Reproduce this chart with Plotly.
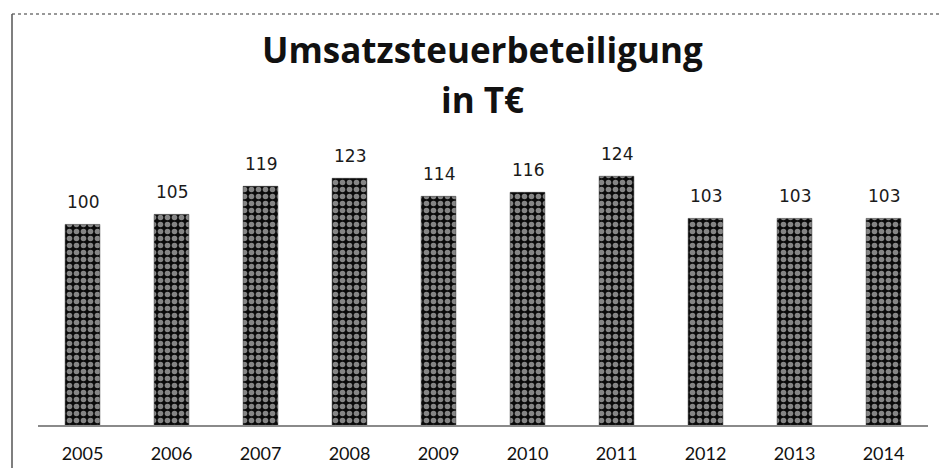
import plotly.graph_objects as go

years = ["2005", "2006", "2007", "2008", "2009", "2010", "2011", "2012", "2013", "2014"]
values = [100, 105, 119, 123, 114, 116, 124, 103, 103, 103]
title_line1 = "Umsatzsteuerbeteiligung"
title_line2 = "in T€"

fig = go.Figure()
fig.add_trace(go.Bar(
    x=years, y=values,
    marker=dict(
        color="black",
        line=dict(color="#222", width=0.5),
        pattern=dict(shape=".", fgcolor="white", bgcolor="#0a0a0a", size=7, solidity=0.5),
    ),
    width=0.39,
))

# body margin of the page offsets the figure by 8px; positions below are figure px
W, H = 950, 468
l, r, t, b = 30, 30, 136, 49
pw = W - l - r
ph = H - t - b
k = 2.02  # px per unit

def px_x(x):
    return (x - l) / pw

def px_y(y):
    return (H - b - y) / ph

annotations = [
    dict(text="<b>" + title_line1 + "</b>", xref="paper", yref="paper",
         x=px_x(474), y=px_y(41), xanchor="center", yanchor="middle",
         showarrow=False, font=dict(family="Open Sans", size=35, color="#111")),
    dict(text="<b>" + title_line2 + "</b>", xref="paper", yref="paper",
         x=px_x(474), y=px_y(91), xanchor="center", yanchor="middle",
         showarrow=False, font=dict(family="Open Sans", size=35, color="#111")),
]
for i, v in enumerate(values):
    annotations.append(dict(
        x=i, y=v, xref="x", yref="y", text=str(v), showarrow=False,
        yanchor="bottom", yshift=10,
        font=dict(family="DejaVu Sans", size=17, color="#1a1a1a"),
    ))

fig.update_layout(
    width=W, height=H,
    margin=dict(l=l, r=r, t=t, b=b),
    paper_bgcolor="white", plot_bgcolor="white",
    showlegend=False,
    xaxis=dict(
        type="category",
        showline=True, linecolor="#8a8a8a", linewidth=1.5,
        showgrid=False, ticks="",
        tickfont=dict(family="Lato", size=18, color="#111"),
        ticklabelstandoff=12,
        range=[-0.5, 9.5],
    ),
    yaxis=dict(
        visible=False, range=[0, ph / k],
    ),
    annotations=annotations,
    shapes=[
        dict(type="line", xref="paper", yref="paper",
             x0=px_x(4), x1=px_x(950), y0=px_y(5), y1=px_y(5),
             line=dict(color="#777", width=1.5, dash="dot")),
        dict(type="line", xref="paper", yref="paper",
             x0=px_x(4), x1=px_x(4), y0=px_y(5), y1=px_y(470),
             line=dict(color="#555", width=1.5)),
    ],
)

fig.write_html("out.html")
